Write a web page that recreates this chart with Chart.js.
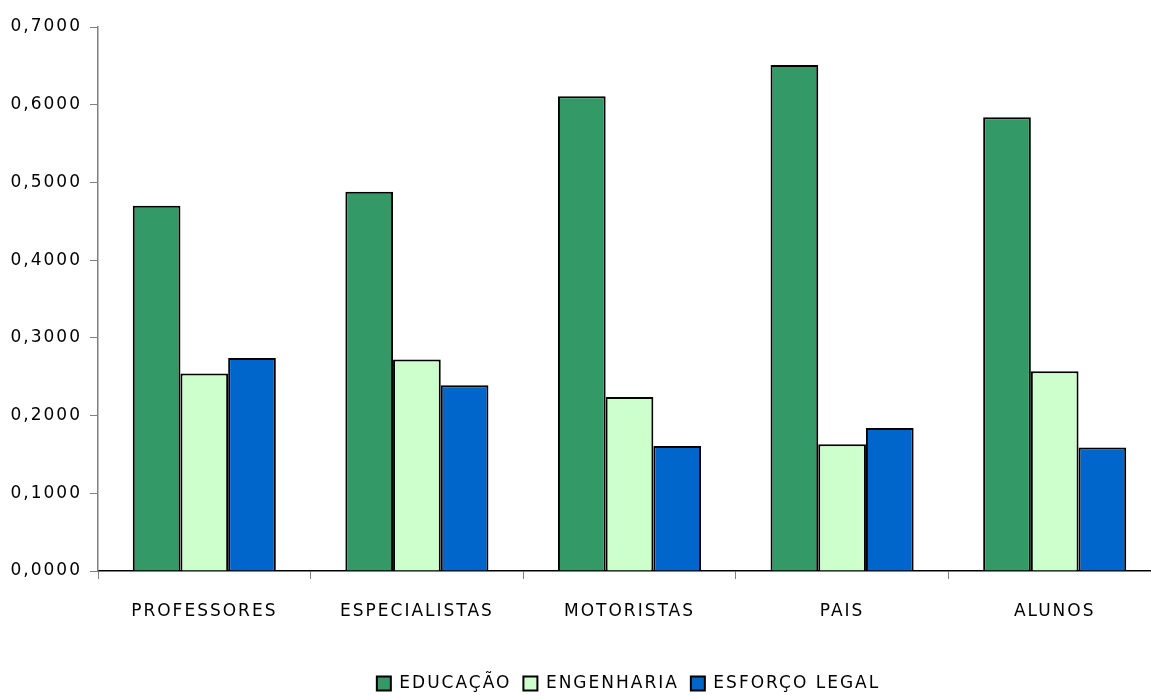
<!DOCTYPE html>
<html>
<head>
<meta charset="utf-8">
<script src="https://cdn.jsdelivr.net/npm/chart.js@4/dist/chart.umd.min.js"></script>
<style>
  html, body { margin: 0; padding: 0; background: #fff; overflow: hidden; }
  #wrap { width: 1163px; height: 695px; }
</style>
</head>
<body>
<div id="wrap"><canvas id="c" width="1163" height="695"></canvas></div>
<script>
// Categories and series values
const categories = ['PROFESSORES', 'ESPECIALISTAS', 'MOTORISTAS', 'PAIS', 'ALUNOS'];
const educacao   = [0.470, 0.488, 0.611, 0.651, 0.584];
const engenharia = [0.254, 0.272, 0.224, 0.163, 0.257];
const esforco    = [0.274, 0.239, 0.161, 0.184, 0.159];
const seriesNames = ['EDUCAÇÃO', 'ENGENHARIA', 'ESFORÇO LEGAL'];

const FONT = { family: '"DejaVu Sans", sans-serif', size: 17 };
const SPACING = '2px';
const LEGEND_SHIFT = 48; // legend sits right of the chart centre

// Wider letter spacing for the geometric look of the labels
const spacingPlugin = {
  id: 'spacing',
  beforeUpdate(chart) { chart.ctx.letterSpacing = SPACING; },
  beforeLayout(chart) { chart.ctx.letterSpacing = SPACING; },
  beforeDraw(chart) { chart.ctx.letterSpacing = SPACING; },
  afterLayout(chart) {
    if (chart.legend) {
      chart.legend.left += LEGEND_SHIFT;
      chart.legend.right += LEGEND_SHIFT;
    }
  }
};

new Chart(document.getElementById('c'), {
  type: 'bar',
  data: {
    labels: categories,
    datasets: [
      { label: seriesNames[0], data: educacao,   backgroundColor: '#339966', borderColor: '#000', borderWidth: 2 },
      { label: seriesNames[1], data: engenharia, backgroundColor: '#CCFFCC', borderColor: '#000', borderWidth: 2 },
      { label: seriesNames[2], data: esforco,    backgroundColor: '#0066CC', borderColor: '#000', borderWidth: 2 }
    ]
  },
  options: {
    responsive: false,
    animation: false,
    devicePixelRatio: 1,
    categoryPercentage: 0.673,
    barPercentage: 1.0,
    layout: { padding: { top: 27, left: 0, right: 2, bottom: -7 } },
    plugins: {
      tooltip: { enabled: false },
      legend: {
        position: 'bottom',
        labels: {
          boxWidth: 14, boxHeight: 14, padding: 12,
          color: '#000',
          font: FONT
        }
      }
    },
    scales: {
      x: {
        grid: { drawOnChartArea: false, offset: true, tickLength: 8, color: '#808080', lineWidth: 1 },
        border: { color: '#000', width: 1.5 },
        ticks: { color: '#000', font: FONT, padding: 22, maxRotation: 0 },
        afterFit(scale) { scale.height = 92; }
      },
      y: {
        min: 0, max: 0.7,
        grid: { drawOnChartArea: false, tickLength: 8, color: '#808080', lineWidth: 1 },
        border: { color: '#808080', width: 1.5 },
        ticks: {
          stepSize: 0.1, color: '#000', font: FONT, padding: 8,
          callback: v => v.toFixed(4).replace('.', ',')
        },
        afterFit(scale) { scale.width = 98; }
      }
    }
  },
  plugins: [spacingPlugin]
});
</script>
</body>
</html>
